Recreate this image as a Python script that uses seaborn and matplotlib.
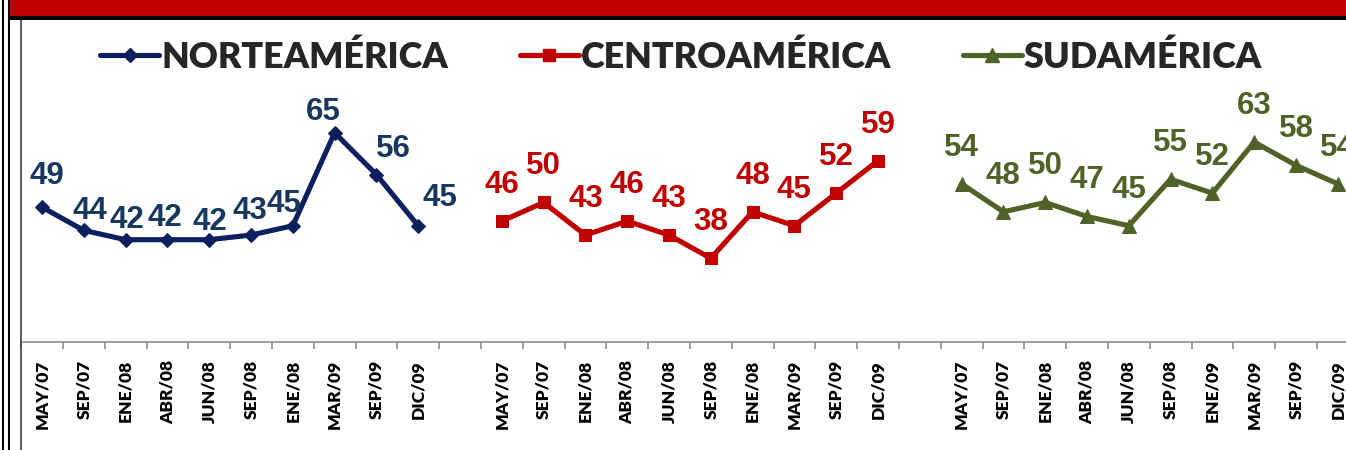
import numpy as np
import pandas as pd
import matplotlib
matplotlib.use("Agg")
import matplotlib.pyplot as plt
from matplotlib.lines import Line2D
from matplotlib.patches import Rectangle
import seaborn as sns

# ---- data -------------------------------------------------------------
regions = ["NORTEAMÉRICA", "CENTROAMÉRICA", "SUDAMÉRICA"]

periods_na = ["MAY/07", "SEP/07", "ENE/08", "ABR/08", "JUN/08",
              "SEP/08", "ENE/08", "MAR/09", "SEP/09", "DIC/09"]
periods_ca = ["MAY/07", "SEP/07", "ENE/08", "ABR/08", "JUN/08",
              "SEP/08", "ENE/08", "MAR/09", "SEP/09", "DIC/09"]
periods_sa = ["MAY/07", "SEP/07", "ENE/08", "ABR/08", "JUN/08",
              "SEP/08", "ENE/09", "MAR/09", "SEP/09", "DIC/09"]

values_na = [49, 44, 42, 42, 42, 43, 45, 65, 56, 45]
values_ca = [46, 50, 43, 46, 43, 38, 48, 45, 52, 59]
values_sa = [54, 48, 50, 47, 45, 55, 52, 63, 58, 54]

# ---- styling ----------------------------------------------------------
line_colors = {"NORTEAMÉRICA": "#0D1F5E", "CENTROAMÉRICA": "#C00000", "SUDAMÉRICA": "#4F6228"}
label_colors = {"NORTEAMÉRICA": "#17375E", "CENTROAMÉRICA": "#C00000", "SUDAMÉRICA": "#4F6228"}
marker_style = {"NORTEAMÉRICA": ("D", 7), "CENTROAMÉRICA": ("s", 9), "SUDAMÉRICA": ("^", 10)}
LINE_W = 3.7

# value-label placement (pixels from the point); North America labels
# are nudged individually to keep them clear of the line
default_offset = (0, 36)
na_offsets = [(5, 31), (6, 19), (1, 20), (-3, 22), (1, 18),
              (-1, 24), (-9, 22), (-11, 21), (17, 26), (22, 28)]

# one shared categorical axis, with an empty slot between regions
groups = [(regions[0], periods_na, values_na),
          (regions[1], periods_ca, values_ca),
          (regions[2], periods_sa, values_sa)]
rows = []
for g, (reg, per, val) in enumerate(groups):
    for i, (p, v) in enumerate(zip(per, val)):
        rows.append({"region": reg, "period": p, "value": v,
                     "slot": g * (len(per) + 1) + i, "idx": i})
df = pd.DataFrame(rows)

# ---- figure -----------------------------------------------------------
sns.set_style("white")
W, H = 1346, 450
fig = plt.figure(figsize=(W / 100, H / 100), dpi=100)

n_slots = df["slot"].max() + 1
slot_px = 41.8
ax_left = 21.1
ax = fig.add_axes([ax_left / W, 108 / H, n_slots * slot_px / W, 279 / H])
ax.set_facecolor("none")

for reg in regions:
    sub = df[df["region"] == reg]
    mk, ms = marker_style[reg]
    sns.lineplot(data=sub, x="slot", y="value", ax=ax, color=line_colors[reg],
                 marker=mk, markersize=ms, markeredgecolor=line_colors[reg],
                 linewidth=LINE_W, legend=False, zorder=3)

ax.set_xlim(-0.5, n_slots - 0.5)
ax.set_ylim(20, 80)

# value labels
for _, r in df.iterrows():
    off = na_offsets[r["idx"]] if r["region"] == regions[0] else default_offset
    ax.annotate(str(r["value"]), (r["slot"], r["value"]), xytext=off,
                textcoords="offset pixels", ha="center", va="center",
                fontsize=22.5, fontweight="bold", family="Liberation Sans",
                color=label_colors[r["region"]], annotation_clip=False, zorder=4)

# axes styling
for s in ["left", "right", "top"]:
    ax.spines[s].set_visible(False)
ax.spines["bottom"].set_color("#8C8C8C")
ax.spines["bottom"].set_linewidth(1.2)
ax.set_yticks([])
ax.set_xlabel("")
ax.set_ylabel("")
ax.set_xticks(df["slot"].tolist())
ax.set_xticklabels(df["period"].tolist(), rotation=90, fontsize=12.5,
                   fontweight="heavy", family="Lato", color="black")
ax.set_xticks(np.arange(-0.5, n_slots, 1.0), minor=True)
ax.tick_params(axis="x", which="major", length=0, pad=13)
ax.tick_params(axis="x", which="minor", length=5, width=1.2, color="#8C8C8C",
               direction="out", bottom=True)

# legend
handles = [Line2D([], [], color=line_colors[r], lw=LINE_W,
                  marker=marker_style[r][0], markersize=marker_style[r][1],
                  solid_capstyle="round") for r in regions]
fig.legend(handles, regions, loc="center", bbox_to_anchor=(681 / W, 1 - 57 / H),
           ncol=3, frameon=False, handlelength=1.65, handletextpad=0.05,
           columnspacing=2.0, prop={"family": "Lato", "weight": "heavy", "size": 25.8},
           borderaxespad=0, borderpad=0)

# frame: header band and border lines
def fx(px):
    return px / W

def fy(py):
    return 1 - py / H

fig.add_artist(Rectangle((fx(9), fy(16)), fx(W) - fx(9), 16 / H,
                         facecolor="#C00000", edgecolor="none", transform=fig.transFigure))
fig.add_artist(Rectangle((fx(9), fy(20)), fx(W) - fx(9), 4 / H,
                         facecolor="black", edgecolor="none", transform=fig.transFigure))
for x in (2.5, 8.5):
    fig.add_artist(Line2D([fx(x), fx(x)], [0, 1], color="black", lw=1.5,
                          transform=fig.transFigure))
fig.add_artist(Line2D([fx(21), fx(21)], [0, fy(20)], color="#404040", lw=1.2,
                      transform=fig.transFigure))

fig.savefig("out.png", dpi=100)
